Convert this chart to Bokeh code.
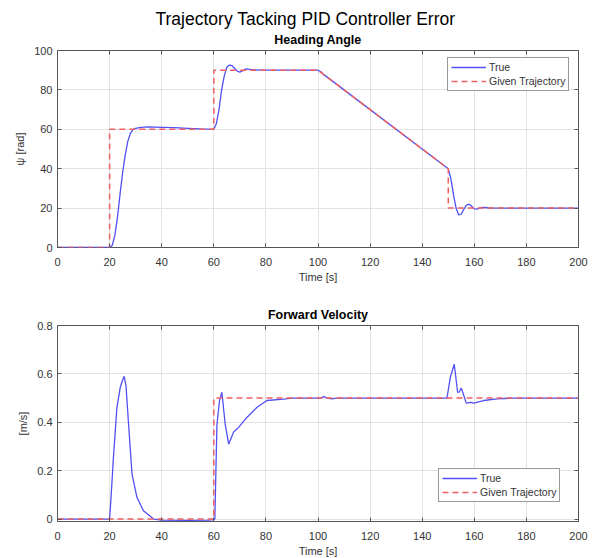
from bokeh.plotting import figure
from bokeh.layouts import column
from bokeh.models import (Title, Legend, LegendItem, LinearAxis, FixedTicker, Range1d,
                          CustomLabelingPolicy)
from bokeh.embed import file_html
from bokeh.resources import INLINE

# ---------------- data ----------------
x_ticks = [0, 20, 40, 60, 80, 100, 120, 140, 160, 180, 200]
psi_ticks = [0, 20, 40, 60, 80, 100]
vel_ticks = [0, 0.2, 0.4, 0.6, 0.8]

t_psi_ref = [0, 20, 20, 60, 60, 100, 150, 150, 200]
psi_ref = [0, 0, 60, 60, 90, 90, 40, 20, 20]

t_psi_true = [0, 20, 21, 22, 23, 24, 25, 26, 27, 28, 29, 30, 32, 35, 40, 45, 50, 55,
              60, 61, 62, 63, 64, 65, 66, 67, 68, 69, 70, 71, 72, 73, 75, 80, 100,
              101, 102, 150, 151, 152, 153, 154, 155, 156, 157, 158, 159, 160, 161,
              162, 163, 164, 166, 200]
psi_true = [0, 0, 1, 6, 15, 27, 38, 47, 54, 58, 59.8, 60.5, 61, 61.2, 61, 60.8, 60.5, 60.2,
            60, 63, 70, 80, 87, 91.5, 92.6, 92.3, 91, 89.5, 89, 89.6, 90.5, 90.6, 90.2, 90, 90,
            89.3, 88, 40, 35, 27, 20, 16.5, 17, 19.5, 21.5, 22, 21, 19.6, 19.5,
            20, 20.4, 20.3, 20, 20]

t_vel_ref = [0, 60, 60, 200]
vel_ref = [0, 0, 0.5, 0.5]

t_vel_true = [0, 20, 20.5, 21.5, 22.8, 24.1, 25, 25.6, 26.3, 27.3, 28.6, 30.5, 33, 36.9,
              40, 50, 58, 60, 60.4, 61.2, 62.2, 63.1, 64.4, 65.7, 66.5, 67.6, 69.1, 72.7,
              76.6, 80.4, 86.8, 90, 100, 101, 102.2, 103.5, 105.4, 107, 149.5, 150.8,
              152.3, 153.6, 154.2, 155, 156, 156.9, 158.5, 159.8, 163.6, 168.7, 175, 200]
vel_true = [0, 0, 0.08, 0.26, 0.46, 0.545, 0.575, 0.59, 0.55, 0.39, 0.186, 0.09, 0.034, 0,
            -0.004, -0.005, -0.004, -0.002, 0.0, 0.39, 0.49, 0.524, 0.39, 0.31, 0.33, 0.36,
            0.374, 0.42, 0.462, 0.49, 0.496, 0.5, 0.5, 0.5, 0.506, 0.5, 0.497, 0.5, 0.5,
            0.586, 0.64, 0.524, 0.525, 0.542, 0.51, 0.479, 0.482, 0.479, 0.49, 0.497, 0.5, 0.5]

# ---------------- style ----------------
FONT = "Liberation Sans"
BLUE = "#5050f5"
RED = "#f06060"
AX = "#555555"
TXT = "#333333"
GRID = "#e2e2e2"

HIDE_ALL = "for (const i of indices) { indices.unset(i) } return indices"


def spacer(p, loc, size, tick):
    # axis with no visible marks: reserves border space only
    a = LinearAxis(ticker=FixedTicker(ticks=[tick]), axis_line_color=None,
                   major_tick_line_color=None, major_tick_in=0, major_tick_out=0,
                   minor_tick_line_color=None, major_label_standoff=max(size - 1, 0),
                   major_label_text_font_size="1px",
                   major_label_policy=CustomLabelingPolicy(code=HIDE_ALL))
    p.add_layout(a, loc)


def style(p, yticks):
    p.outline_line_color = AX
    p.outline_line_width = 1
    for ax in p.xaxis + p.yaxis:
        ax.axis_line_color = None
        ax.major_tick_line_color = AX
        ax.major_tick_in = 4
        ax.major_tick_out = 0
        ax.minor_tick_line_color = None
        ax.major_label_text_font = FONT
        ax.major_label_text_font_size = "11px"
        ax.major_label_text_color = TXT
        ax.axis_label_text_font = FONT
        ax.axis_label_text_font_size = "11px"
        ax.axis_label_text_color = TXT
        ax.axis_label_text_font_style = "normal"
    p.xaxis.ticker = FixedTicker(ticks=x_ticks)
    p.yaxis.ticker = FixedTicker(ticks=yticks)
    p.yaxis.major_label_standoff = 5
    p.yaxis.axis_label_standoff = 5
    p.xaxis.major_label_standoff = 10
    p.xaxis.axis_label_standoff = 2
    p.xgrid.ticker = FixedTicker(ticks=x_ticks)
    p.ygrid.ticker = FixedTicker(ticks=yticks)
    p.grid.grid_line_color = GRID
    p.grid.grid_line_width = 1
    # mirrored ticks on top and right (labels hidden), closest to the frame
    for loc, ticks in (("right", yticks), ("above", x_ticks)):
        a = LinearAxis(ticker=FixedTicker(ticks=ticks), axis_line_color=None,
                       major_tick_line_color=AX, major_tick_in=4, major_tick_out=0,
                       minor_tick_line_color=None, major_label_text_font_size="1px",
                       major_label_standoff=0,
                       major_label_policy=CustomLabelingPolicy(code=HIDE_ALL))
        p.add_layout(a, loc)


def add_legend(p, r_true, r_ref, loc):
    leg = Legend(items=[LegendItem(label="True", renderers=[r_true]),
                        LegendItem(label="Given Trajectory", renderers=[r_ref])],
                 location=loc)
    leg.label_text_font = FONT
    leg.label_text_font_size = "10.5px"
    leg.label_text_color = TXT
    leg.glyph_width = 35
    leg.glyph_height = 12
    leg.label_height = 12
    leg.label_standoff = 3
    leg.spacing = 2
    leg.padding = 3
    leg.margin = 0
    leg.border_line_color = "#333333"
    leg.border_line_width = 1
    leg.background_fill_color = "white"
    leg.background_fill_alpha = 1
    p.add_layout(leg)


def make_title(text, size, bold, standoff, align, valign, offset=0):
    return Title(text=text, text_font=FONT, text_font_size=size,
                 text_font_style="bold" if bold else "normal", text_color="black",
                 standoff=standoff, align=align, vertical_align=valign, offset=offset)


# ---------------- top plot ----------------
p1 = figure(frame_width=521, frame_height=197, x_range=Range1d(0, 200), y_range=Range1d(0, 100),
            output_backend="svg", toolbar_location=None, min_border=0, title=None)
p1.below[0].axis_label = "Time [s]"
p1.left[0].axis_label = "ψ [rad]"
style(p1, psi_ticks)
# "above" items: first added sits closest to the frame
p1.add_layout(make_title("Heading Angle", "12.5px", True, 0, "center", "bottom"), "above")
p1.add_layout(make_title("Trajectory Tacking PID Controller Error", "17.5px", False, 3,
                         "left", "bottom", 98), "above")
spacer(p1, "above", 2, x_ticks[0])
spacer(p1, "left", 8, psi_ticks[0])
spacer(p1, "right", 8, psi_ticks[0])
spacer(p1, "below", 17, x_ticks[0])
r1 = p1.line(t_psi_true, psi_true, line_color=BLUE, line_width=1.3)
r2 = p1.line(t_psi_ref, psi_ref, line_color=RED, line_width=1.5, line_dash="6 4")
add_legend(p1, r1, r2, (390, 156))

# ---------------- bottom plot ----------------
p2 = figure(frame_width=521, frame_height=196, x_range=Range1d(0, 200), y_range=Range1d(-0.01, 0.8),
            output_backend="svg", toolbar_location=None, min_border=0, title=None)
p2.below[0].axis_label = "Time [s]"
p2.left[0].axis_label = "[m/s]"
style(p2, vel_ticks)
p2.left[0].major_label_overrides = {0: "0", 0.2: "0.2", 0.4: "0.4", 0.6: "0.6", 0.8: "0.8"}
p2.add_layout(make_title("Forward Velocity", "12.5px", True, 0, "center", "bottom"), "above")
spacer(p2, "left", 11, vel_ticks[0])
spacer(p2, "right", 8, vel_ticks[0])
r3 = p2.line(t_vel_true, vel_true, line_color=BLUE, line_width=1.3)
r4 = p2.line(t_vel_ref, vel_ref, line_color=RED, line_width=1.5, line_dash="6 4")
add_legend(p2, r3, r4, (381, 19))

layout = column(p1, p2, spacing=0)
open("out.html", "w").write(file_html(layout, INLINE))
